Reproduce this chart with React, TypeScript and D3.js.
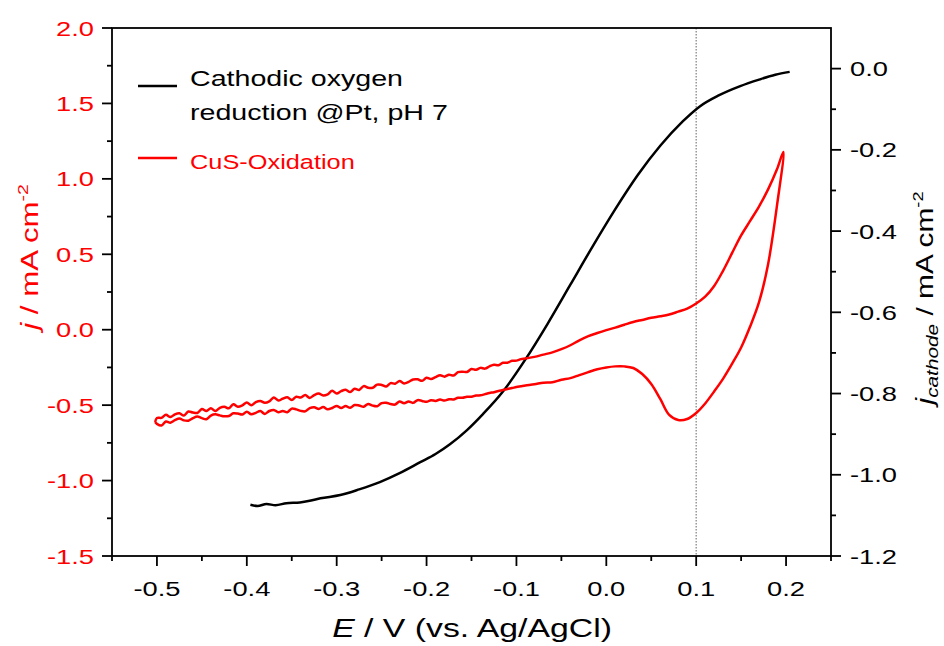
import React from 'react';
import * as d3 from 'd3';

const W = 944;
const H = 646;
const PLOT = { left: 112, right: 831, top: 28, bottom: 556 };
const SX = 1.3; // horizontal text stretch seen in the reference
const FONT = '"Liberation Sans", Arial, sans-serif';

// ---- axes ----
const xDomain: [number, number] = [-0.55, 0.25];
const leftDomain: [number, number] = [-1.5, 2.0];
const rightDomain: [number, number] = [-1.2, 0.1];

const xTicks = [-0.5, -0.4, -0.3, -0.2, -0.1, 0.0, 0.1, 0.2];
const xMinorTicks = [-0.55, -0.45, -0.35, -0.25, -0.15, -0.05, 0.05, 0.15, 0.25];
const leftTicks = [-1.5, -1.0, -0.5, 0.0, 0.5, 1.0, 1.5, 2.0];
const leftMinorTicks = [-1.25, -0.75, -0.25, 0.25, 0.75, 1.25, 1.75];
const rightTicks = [-1.2, -1.0, -0.8, -0.6, -0.4, -0.2, 0.0];
const rightMinorTicks = [-1.1, -0.9, -0.7, -0.5, -0.3, -0.1];
const markerE = 0.1;

// ---- data: cathodic oxygen reduction @Pt (right axis) ----
const orrCurve: [number, number][] = [
  [-0.396, -1.074], [-0.388, -1.077], [-0.378, -1.072], [-0.368, -1.075], [-0.356, -1.070],
  [-0.341, -1.068], [-0.330, -1.064], [-0.318, -1.058], [-0.296, -1.050], [-0.275, -1.036],
  [-0.252, -1.018], [-0.230, -0.996], [-0.207, -0.969], [-0.190, -0.949], [-0.174, -0.925],
  [-0.155, -0.890], [-0.137, -0.850], [-0.115, -0.795], [-0.090, -0.716], [-0.065, -0.627],
  [-0.040, -0.532], [-0.015, -0.437], [0.010, -0.346], [0.035, -0.262], [0.060, -0.190],
  [0.085, -0.130], [0.104, -0.093], [0.125, -0.066], [0.149, -0.043], [0.170, -0.027],
  [0.188, -0.015], [0.204, -0.008],
];

// ---- data: CuS oxidation CV (left axis) ----
const cusForward: [number, number][] = [
  [-0.502, -0.612], [-0.500, -0.624], [-0.495, -0.635], [-0.490, -0.608], [-0.485, -0.616],
  [-0.480, -0.600], [-0.475, -0.589], [-0.470, -0.601], [-0.465, -0.603], [-0.460, -0.586],
  [-0.455, -0.576], [-0.450, -0.586], [-0.445, -0.593], [-0.440, -0.569], [-0.435, -0.561],
  [-0.430, -0.568], [-0.425, -0.574], [-0.420, -0.572], [-0.415, -0.554], [-0.410, -0.556],
  [-0.405, -0.562], [-0.400, -0.543], [-0.395, -0.561], [-0.390, -0.551], [-0.385, -0.539],
  [-0.380, -0.558], [-0.375, -0.539], [-0.370, -0.532], [-0.365, -0.547], [-0.360, -0.538],
  [-0.355, -0.547], [-0.350, -0.523], [-0.345, -0.528], [-0.340, -0.538], [-0.335, -0.541],
  [-0.330, -0.520], [-0.325, -0.514], [-0.320, -0.525], [-0.315, -0.513], [-0.310, -0.528],
  [-0.305, -0.519], [-0.300, -0.505], [-0.295, -0.519], [-0.290, -0.506], [-0.285, -0.518],
  [-0.280, -0.499], [-0.275, -0.502], [-0.270, -0.510], [-0.265, -0.492], [-0.260, -0.503],
  [-0.255, -0.507], [-0.250, -0.487], [-0.245, -0.484], [-0.240, -0.493], [-0.235, -0.496],
  [-0.230, -0.476], [-0.225, -0.488], [-0.220, -0.476], [-0.215, -0.485], [-0.210, -0.467],
  [-0.205, -0.472], [-0.200, -0.478], [-0.195, -0.467], [-0.190, -0.472], [-0.185, -0.463],
  [-0.180, -0.470], [-0.175, -0.461], [-0.170, -0.462], [-0.165, -0.451], [-0.160, -0.451],
  [-0.155, -0.444], [-0.150, -0.444], [-0.145, -0.436], [-0.140, -0.435], [-0.135, -0.427],
  [-0.130, -0.419], [-0.125, -0.414], [-0.120, -0.406], [-0.115, -0.400], [-0.110, -0.393],
  [-0.105, -0.387], [-0.100, -0.380], [-0.095, -0.375], [-0.090, -0.370], [-0.080, -0.362],
  [-0.070, -0.351], [-0.060, -0.348], [-0.050, -0.332], [-0.040, -0.321], [-0.030, -0.301],
  [-0.020, -0.281], [-0.010, -0.262], [0.000, -0.250], [0.010, -0.243], [0.020, -0.243],
  [0.030, -0.254], [0.040, -0.294], [0.050, -0.360], [0.060, -0.459], [0.070, -0.565],
  [0.080, -0.599], [0.090, -0.592], [0.100, -0.552], [0.110, -0.489], [0.120, -0.409],
  [0.130, -0.324], [0.140, -0.225], [0.150, -0.118], [0.160, 0.021], [0.170, 0.184],
  [0.180, 0.434], [0.190, 0.827], [0.197, 1.178],
];

const cusReverse: [number, number][] = [
  [0.197, 1.178], [0.190, 1.065], [0.180, 0.930], [0.170, 0.818], [0.160, 0.721],
  [0.150, 0.625], [0.140, 0.509], [0.130, 0.392], [0.120, 0.290], [0.110, 0.219],
  [0.100, 0.174], [0.090, 0.140], [0.080, 0.120], [0.070, 0.101], [0.060, 0.089],
  [0.050, 0.079], [0.040, 0.065], [0.030, 0.051], [0.020, 0.033], [0.010, 0.014],
  [0.000, -0.003], [-0.010, -0.022], [-0.020, -0.043], [-0.030, -0.070], [-0.040, -0.103],
  [-0.050, -0.129], [-0.060, -0.150], [-0.070, -0.165], [-0.080, -0.180], [-0.090, -0.191],
  [-0.095, -0.195], [-0.100, -0.205], [-0.105, -0.206], [-0.110, -0.219], [-0.115, -0.219],
  [-0.120, -0.235], [-0.125, -0.232], [-0.130, -0.243], [-0.135, -0.258], [-0.140, -0.253],
  [-0.145, -0.266], [-0.150, -0.260], [-0.155, -0.280], [-0.160, -0.278], [-0.165, -0.281],
  [-0.170, -0.304], [-0.175, -0.298], [-0.180, -0.311], [-0.185, -0.302], [-0.190, -0.314],
  [-0.195, -0.327], [-0.200, -0.318], [-0.205, -0.339], [-0.210, -0.329], [-0.215, -0.330],
  [-0.220, -0.346], [-0.225, -0.356], [-0.230, -0.340], [-0.235, -0.358], [-0.240, -0.354],
  [-0.245, -0.376], [-0.250, -0.366], [-0.255, -0.364], [-0.260, -0.385], [-0.265, -0.385],
  [-0.270, -0.374], [-0.275, -0.399], [-0.280, -0.391], [-0.285, -0.413], [-0.290, -0.398],
  [-0.295, -0.407], [-0.300, -0.423], [-0.305, -0.405], [-0.310, -0.428], [-0.315, -0.436],
  [-0.320, -0.423], [-0.325, -0.433], [-0.330, -0.452], [-0.335, -0.433], [-0.340, -0.450],
  [-0.345, -0.444], [-0.350, -0.466], [-0.355, -0.447], [-0.360, -0.457], [-0.365, -0.469],
  [-0.370, -0.449], [-0.375, -0.475], [-0.380, -0.484], [-0.385, -0.472], [-0.390, -0.480],
  [-0.395, -0.501], [-0.400, -0.482], [-0.405, -0.501], [-0.410, -0.510], [-0.415, -0.494],
  [-0.420, -0.521], [-0.425, -0.511], [-0.430, -0.518], [-0.435, -0.539], [-0.440, -0.520],
  [-0.445, -0.539], [-0.450, -0.526], [-0.455, -0.552], [-0.460, -0.549], [-0.465, -0.542],
  [-0.470, -0.569], [-0.475, -0.554], [-0.480, -0.561], [-0.485, -0.579], [-0.490, -0.564],
  [-0.495, -0.584], [-0.500, -0.585], [-0.502, -0.612],
];

const legendOrr = ['Cathodic oxygen', 'reduction @Pt, pH 7'];
const legendCus = 'CuS-Oxidation';

const fmt = (v: number) => d3.format('.1f')(v).replace('\u2212', '-');

function T(props: {
  x: number; y: number; size: number; fill?: string; anchor?: string; rotate?: number;
  children: React.ReactNode;
}) {
  const { x, y, size, fill = '#000', anchor = 'start', rotate = 0, children } = props;
  return (
    <g transform={`translate(${x},${y}) rotate(${rotate}) scale(${SX},1)`}>
      <text x={0} y={0} fontSize={size} fill={fill} textAnchor={anchor} fontFamily={FONT}>
        {children}
      </text>
    </g>
  );
}

export default function App() {
  const x = d3.scaleLinear().domain(xDomain).range([PLOT.left, PLOT.right]);
  const yL = d3.scaleLinear().domain(leftDomain).range([PLOT.bottom, PLOT.top]);
  const yR = d3.scaleLinear().domain(rightDomain).range([PLOT.bottom, PLOT.top]);

  const redLine = d3
    .line<[number, number]>()
    .x(d => x(d[0]))
    .y(d => yL(d[1]))
    .curve(d3.curveCatmullRom.alpha(0.5));
  const blackLine = d3
    .line<[number, number]>()
    .x(d => x(d[0]))
    .y(d => yR(d[1]))
    .curve(d3.curveMonotoneX);

  const cusLoop = [...cusForward, ...cusReverse.slice(1)];

  const axisW = 1.8;
  const major = 10;
  const minor = 5;
  const tickSize = 21;

  return (
    <svg width={W} height={H} style={{ display: 'block', position: 'absolute', left: 0, top: 0 }}>
      <rect x={0} y={0} width={W} height={H} fill="#fff" />

      {/* reference potential */}
      <line
        x1={x(markerE)} x2={x(markerE)} y1={PLOT.top} y2={PLOT.bottom}
        stroke="#888" strokeWidth={1.3} strokeDasharray="1.5 1.5"
      />

      <path d={blackLine(orrCurve) ?? ''} fill="none" stroke="#000" strokeWidth={2.5} strokeLinejoin="round" />
      <path d={redLine(cusLoop) ?? ''} fill="none" stroke="#ff0000" strokeWidth={2.5} strokeLinejoin="round" />

      {/* frame */}
      <rect
        x={PLOT.left} y={PLOT.top} width={PLOT.right - PLOT.left} height={PLOT.bottom - PLOT.top}
        fill="none" stroke="#000" strokeWidth={axisW}
      />

      {/* bottom axis */}
      {xTicks.map(t => (
        <g key={'xt' + t}>
          <line x1={x(t)} x2={x(t)} y1={PLOT.bottom} y2={PLOT.bottom + major} stroke="#000" strokeWidth={axisW} />
          <T x={x(t)} y={596} size={tickSize} anchor="middle">{fmt(t)}</T>
        </g>
      ))}
      {xMinorTicks.map(t => (
        <line key={'xm' + t} x1={x(t)} x2={x(t)} y1={PLOT.bottom} y2={PLOT.bottom + minor} stroke="#000" strokeWidth={axisW} />
      ))}

      {/* left axis */}
      {leftTicks.map(t => (
        <g key={'lt' + t}>
          <line x1={PLOT.left - major} x2={PLOT.left} y1={yL(t)} y2={yL(t)} stroke="#000" strokeWidth={axisW} />
          <T x={94} y={yL(t) + 7.5} size={tickSize} anchor="end" fill="#ff0000">{fmt(t)}</T>
        </g>
      ))}
      {leftMinorTicks.map(t => (
        <line key={'lm' + t} x1={PLOT.left - minor} x2={PLOT.left} y1={yL(t)} y2={yL(t)} stroke="#000" strokeWidth={axisW} />
      ))}

      {/* right axis */}
      {rightTicks.map(t => (
        <g key={'rt' + t}>
          <line x1={PLOT.right} x2={PLOT.right + major} y1={yR(t)} y2={yR(t)} stroke="#000" strokeWidth={axisW} />
          <T x={850} y={yR(t) + 7.5} size={tickSize} anchor="start">{fmt(t)}</T>
        </g>
      ))}
      {rightMinorTicks.map(t => (
        <line key={'rm' + t} x1={PLOT.right} x2={PLOT.right + minor} y1={yR(t)} y2={yR(t)} stroke="#000" strokeWidth={axisW} />
      ))}

      {/* axis titles */}
      <T x={472} y={637} size={26} anchor="middle">
        <tspan fontStyle="italic">E</tspan>
        <tspan> / V (vs. Ag/AgCl)</tspan>
      </T>
      <T x={38} y={257} size={24} anchor="middle" fill="#ff0000" rotate={-90}>
        <tspan fontStyle="italic">j</tspan>
        <tspan> / mA cm</tspan>
        <tspan fontSize={15} dy={-10}>-2</tspan>
      </T>
      <T x={933} y={298} size={23} anchor="middle" rotate={-90}>
        <tspan fontStyle="italic">j</tspan>
        <tspan fontStyle="italic" fontSize={16} dy={5}>cathode</tspan>
        <tspan dy={-5}> / mA cm</tspan>
        <tspan fontSize={14} dy={-10}>-2</tspan>
      </T>

      {/* legend */}
      <line x1={138} x2={177} y1={86} y2={86} stroke="#000" strokeWidth={2.5} />
      <T x={190} y={86} size={22}>{legendOrr[0]}</T>
      <T x={190} y={120} size={22}>{legendOrr[1]}</T>
      <line x1={138} x2={177} y1={158} y2={158} stroke="#ff0000" strokeWidth={2.5} />
      <T x={190} y={169} size={19.5} fill="#ff0000">{legendCus}</T>
    </svg>
  );
}
